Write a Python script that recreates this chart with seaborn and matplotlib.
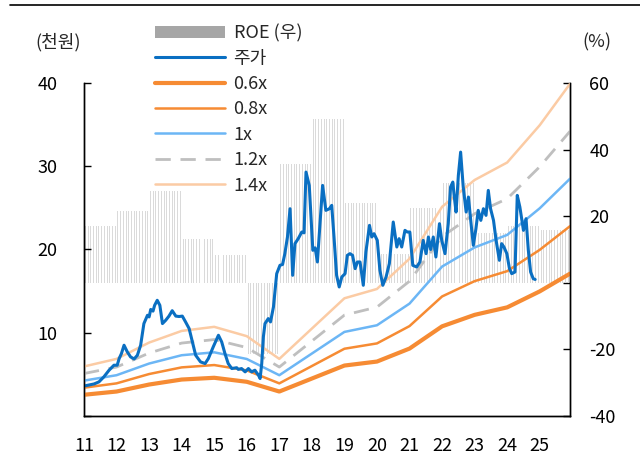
import numpy as np
import matplotlib
matplotlib.use("Agg")
import matplotlib.pyplot as plt
import seaborn as sns
from matplotlib.patches import Patch
from matplotlib.lines import Line2D
from matplotlib.ticker import FuncFormatter

# ROE (right axis, %) - one value per year, shown as monthly bars
years = list(range(2011, 2026))
roe = [17.1, 21.5, 27.7, 13.2, 8.2, -21.3, 35.8, 49.2, 24.1, 8.6, 22.6, 29.9, 15.1, 17.1, 15.8]

# PBR band lines (left axis, thousand won)
band_t = [2011, 2012, 2013, 2014, 2015, 2016, 2017, 2019, 2020, 2021, 2022, 2023, 2024, 2025, 2025.93]
band_06 = [2.55, 2.94, 3.78, 4.38, 4.59, 4.11, 2.94, 6.06, 6.54, 8.10, 10.77, 12.15, 13.05, 14.97, 17.10]
band_08 = [3.40, 3.92, 5.04, 5.84, 6.12, 5.48, 3.92, 8.08, 8.72, 10.80, 14.36, 16.20, 17.40, 19.96, 22.80]
band_10 = [4.25, 4.90, 6.30, 7.30, 7.65, 6.85, 4.90, 10.10, 10.90, 13.50, 17.95, 20.25, 21.75, 24.95, 28.50]
band_12 = [5.10, 5.88, 7.56, 8.76, 9.18, 8.22, 5.88, 12.12, 13.08, 16.20, 21.54, 24.30, 26.10, 29.94, 34.20]
band_14 = [5.95, 6.86, 8.82, 10.22, 10.71, 9.59, 6.86, 14.14, 15.26, 18.90, 25.13, 28.35, 30.45, 34.93, 39.90]

# share price (thousand won)
price_t = [2011.00, 2011.31, 2011.46, 2011.61, 2011.77, 2011.92, 2012.02, 2012.08, 2012.15, 2012.23,
           2012.33, 2012.43, 2012.54, 2012.64, 2012.74, 2012.84, 2012.95, 2013.00, 2013.05, 2013.12,
           2013.17, 2013.25, 2013.33, 2013.41, 2013.51, 2013.61, 2013.71, 2013.82, 2013.92, 2014.02,
           2014.12, 2014.23, 2014.33, 2014.43, 2014.58, 2014.72, 2014.82, 2014.97, 2015.13, 2015.23,
           2015.33, 2015.43, 2015.54, 2015.69, 2015.74, 2015.84, 2015.95, 2016.05, 2016.15, 2016.25,
           2016.36, 2016.41, 2016.46, 2016.51, 2016.56, 2016.66, 2016.73, 2016.82, 2016.92, 2017.02,
           2017.10, 2017.17, 2017.25, 2017.33, 2017.41, 2017.48, 2017.58, 2017.69, 2017.76, 2017.82,
           2017.92, 2018.03, 2018.10, 2018.17, 2018.25, 2018.33, 2018.43, 2018.54, 2018.61, 2018.68,
           2018.76, 2018.84, 2018.92, 2019.02, 2019.09, 2019.17, 2019.25, 2019.33, 2019.40, 2019.48,
           2019.58, 2019.66, 2019.77, 2019.84, 2019.91, 2020.01, 2020.09, 2020.18, 2020.28, 2020.38,
           2020.50, 2020.61, 2020.68, 2020.76, 2020.86, 2020.93, 2021.01, 2021.10, 2021.22, 2021.32,
           2021.42, 2021.51, 2021.58, 2021.65, 2021.73, 2021.81, 2021.92, 2021.99, 2022.09, 2022.19,
           2022.26, 2022.33, 2022.37, 2022.43, 2022.50, 2022.57, 2022.65, 2022.74, 2022.81, 2022.88,
           2022.96, 2023.04, 2023.11, 2023.19, 2023.27, 2023.35, 2023.42, 2023.49, 2023.58, 2023.66,
           2023.76, 2023.83, 2023.90, 2023.99, 2024.07, 2024.14, 2024.24, 2024.31, 2024.39, 2024.50,
           2024.58, 2024.65, 2024.72, 2024.80, 2024.86]
price = [3.6, 3.85, 4.1, 4.7, 5.5, 6.1, 6.1, 6.9, 7.5, 8.5,
         7.7, 7.1, 6.85, 7.3, 8.5, 11.1, 12.1, 11.9, 12.8, 12.6,
         13.3, 13.9, 13.3, 11.1, 11.5, 12.0, 12.65, 12.0, 11.95, 12.0,
         11.3, 10.5, 8.9, 7.3, 6.5, 6.3, 6.9, 8.3, 9.7, 8.9,
         7.5, 6.3, 5.7, 5.8, 5.6, 5.7, 5.3, 5.7, 5.3, 5.5,
         4.9, 4.5, 6.3, 9.5, 11.1, 11.7, 11.3, 13.1, 17.1, 18.1,
         18.2, 19.5, 21.5, 24.9, 16.9, 20.7, 21.3, 22.1, 22.0, 29.3,
         27.7, 19.9, 20.2, 18.5, 23.1, 27.7, 24.7, 24.9, 25.3, 21.5,
         16.9, 15.5, 16.7, 17.1, 19.3, 19.5, 19.3, 17.7, 18.5, 18.5,
         15.7, 19.7, 22.9, 21.5, 21.9, 21.1, 17.5, 15.7, 16.7, 18.3,
         23.3, 20.3, 21.3, 20.3, 22.3, 22.1, 22.1, 18.1, 17.9, 18.5,
         21.1, 19.5, 21.5, 20.0, 21.5, 19.1, 23.1, 21.1, 19.5, 23.1,
         27.5, 28.1, 26.5, 24.5, 28.9, 31.7, 27.5, 24.5, 26.3, 23.5,
         20.5, 22.5, 24.7, 23.5, 24.9, 24.1, 27.1, 24.9, 23.5, 21.1,
         18.7, 20.7, 20.3, 19.5, 17.7, 17.1, 17.3, 26.5, 25.1, 22.3,
         23.7, 19.9, 17.3, 16.5, 16.4]

sns.set_style("white")
plt.rcParams['font.family'] = ['Noto Sans CJK KR', 'DejaVu Sans']
fs = 13

fig = plt.figure(figsize=(6.4, 4.57), dpi=100)
ax = fig.add_axes([84 / 640, 1 - 416 / 457, 486 / 640, 333 / 457])
ax2 = ax.twinx()

# monthly ROE bars
month_x = np.array([y + (m + 0.5) / 12 for y in years for m in range(12)])
roe_m = np.repeat(roe, 12)
ax2.bar(month_x, roe_m, width=0.03, color='#dadada', linewidth=0)

# band lines + price
sns.lineplot(x=band_t, y=band_06, ax=ax, color='#f68b33', linewidth=3.0)
sns.lineplot(x=band_t, y=band_08, ax=ax, color='#f68b33', linewidth=1.8)
sns.lineplot(x=band_t, y=band_10, ax=ax, color='#6cb6f5', linewidth=1.8)
sns.lineplot(x=band_t, y=band_12, ax=ax, color='#bfbfbf', linewidth=2.0, linestyle=(0, (5.5, 3.5)))
sns.lineplot(x=band_t, y=band_14, ax=ax, color='#fbcba4', linewidth=1.8)
sns.lineplot(x=price_t, y=price, ax=ax, color='#0a6fc2', linewidth=2.2)

ax.set_zorder(ax2.get_zorder() + 1)
ax.patch.set_visible(False)

ax.set_xlim(2011, 2025.93)
ax.set_ylim(0, 40)
ax2.set_ylim(-40, 60)
ax.set_xticks(years)
ax.set_xticklabels([str(y % 100) for y in years])
ax.set_yticks([0, 10, 20, 30, 40])
ax2.set_yticks([-40, -20, 0, 20, 40, 60])
ax.yaxis.set_major_formatter(FuncFormatter(lambda v, p: '' if v == 0 else f'{v:.0f}'))
ax2.yaxis.set_major_formatter(FuncFormatter(lambda v, p: '' if v == 0 else f'{v:.0f}'))
ax.set_xlabel('')
ax.set_ylabel('')

for a in (ax, ax2):
    a.spines['top'].set_visible(False)
    for s in ('left', 'right', 'bottom'):
        a.spines[s].set_color('black')
        a.spines[s].set_linewidth(1.0)
    a.grid(False)

ax.tick_params(axis='x', direction='in', length=5, width=1, labelsize=fs, pad=15, colors='black')
ax.tick_params(axis='y', direction='in', length=5, width=1, labelsize=fs, pad=19, colors='black')
ax2.tick_params(axis='y', direction='in', length=5, width=1, labelsize=fs, pad=14, colors='black')

fig.text(58 / 640, 1 - 42 / 457, '(천원)', ha='center', va='center', fontsize=fs)
fig.text(597 / 640, 1 - 42 / 457, '(%)', ha='center', va='center', fontsize=fs)

fig.add_artist(Line2D([10 / 640, 1], [1 - 5 / 457, 1 - 5 / 457], color='black', lw=1.2,
                      transform=fig.transFigure))

handles = [
    Patch(facecolor='#a6a6a6', edgecolor='none'),
    Line2D([], [], color='#0a6fc2', lw=2.2),
    Line2D([], [], color='#f68b33', lw=3.0),
    Line2D([], [], color='#f68b33', lw=1.8),
    Line2D([], [], color='#6cb6f5', lw=1.8),
    Line2D([], [], color='#bfbfbf', lw=2.0, linestyle=(0, (5.5, 3.5))),
    Line2D([], [], color='#fbcba4', lw=1.8),
]
labels = ['ROE (우)', '주가', '0.6x', '0.8x', '1x', '1.2x', '1.4x']
fig.legend(handles, labels, loc='upper left', bbox_to_anchor=(155 / 640, 1 - 24 / 457),
           frameon=False, fontsize=fs, handlelength=3.9, handletextpad=0.45,
           labelspacing=0.41, borderpad=0, borderaxespad=0)

fig.savefig('out.png', dpi=100)
